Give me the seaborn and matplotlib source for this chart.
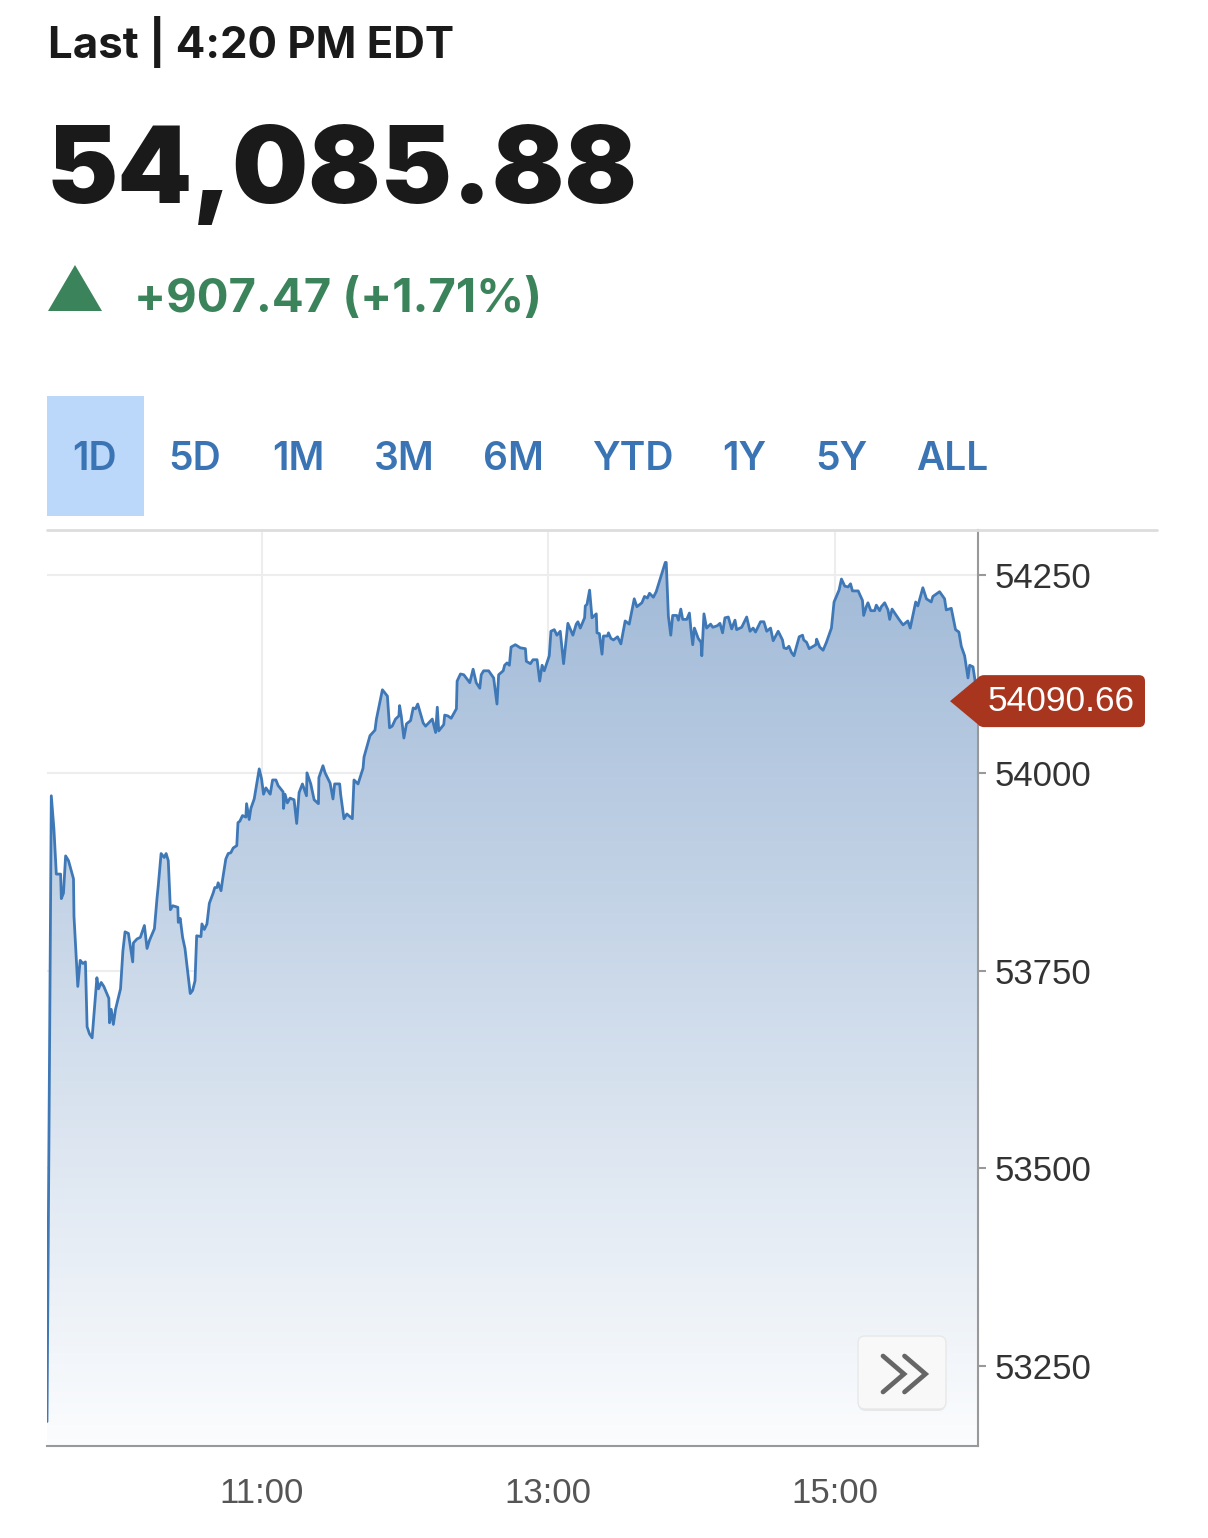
import numpy as np
import pandas as pd
import matplotlib
matplotlib.use("Agg")
import matplotlib.pyplot as plt
import seaborn as sns
from matplotlib.patches import FancyBboxPatch, Polygon, PathPatch
from matplotlib.lines import Line2D

# Intraday prices, minutes after the 9:30 open
times_am = [0, 1.8, 2.9, 3.9, 5.7, 6.0, 6.9, 7.8, 9.0, 11.1,
            11.3, 12.9, 13.9, 15.0, 16.1, 16.8, 17.8, 18.9, 20.9, 21.6,
            22.7, 23.8, 25.9, 26.2, 26.9, 27.8, 28.7, 30.8, 31.8, 32.7,
            34.1, 35.9, 36.2, 37.7, 39.1, 40.8, 41.9, 42.9, 45.0, 46.1,
            46.6, 47.8, 49.1, 49.9, 50.8, 51.7, 52.7, 54.8, 55.0, 55.8,
            56.8, 57.8, 60.0, 61.0, 62.0, 62.7, 64.5, 64.9, 65.9, 67.0,
            68.0, 69.6, 70.3, 71.2, 71.7, 72.9, 73.6, 74.9, 75.9, 77.0,
            78.0, 79.5, 80.0, 80.8, 81.9, 83.3, 83.6, 84.7, 85.4, 86.8,
            88.9, 89.9, 90.7, 91.7, 93.5, 94.5, 95.9, 96.8, 98.9, 99.1,
            99.7, 100.7, 101.8, 103.5, 104.6, 105.6, 107.0, 108.7, 108.9, 110.5,
            111.9, 113.7, 113.9, 115.6, 116.5, 118.6, 119.8, 120.5, 122.6, 123.0]
prices_am = [53180, 53971, 53929, 53872, 53872, 53841, 53848, 53895, 53889, 53866,
             53819, 53730, 53763, 53759, 53761, 53679, 53670, 53665, 53741, 53727,
             53735, 53730, 53715, 53684, 53701, 53682, 53701, 53727, 53775, 53799,
             53797, 53761, 53785, 53790, 53792, 53807, 53778, 53788, 53803, 53842,
             53857, 53898, 53893, 53898, 53889, 53827, 53832, 53830, 53811, 53816,
             53792, 53778, 53721, 53725, 53737, 53794, 53793, 53809, 53802, 53809,
             53835, 53848, 53855, 53855, 53861, 53851, 53866, 53891, 53898, 53899,
             53905, 53908, 53937, 53939, 53946, 53944, 53961, 53941, 53955, 53967,
             54005, 53992, 53973, 53981, 53973, 53991, 53991, 53984, 53976, 53955,
             53973, 53962, 53968, 53966, 53936, 53975, 53986, 53971, 54000, 53986,
             53966, 53961, 53994, 54009, 54000, 53987, 53967, 53986, 53986, 53973]

times_mid = [124.4, 125.6, 127.9, 128.6, 130.3, 132.4, 132.8, 135.3, 137.4, 138.0,
             140.5, 142.6, 143.5, 144.6, 146.0, 147.4, 147.7, 148.4, 149.5, 150.6,
             152.3, 153.4, 154.4, 155.3, 157.6, 158.6, 161.4, 162.8, 163.5, 164.1,
             166.2, 166.6, 167.9, 169.3, 171.5, 171.8, 173.2, 174.6, 177.1, 178.5,
             179.8, 181.3, 181.9, 182.9, 185.0, 187.1, 188.5, 189.2, 191.1, 191.7,
             192.7, 193.7, 194.4, 196.2, 198.3, 200.4, 200.8, 202.5, 203.6, 205.3,
             206.4, 207.4, 208.3, 210.4, 211.1, 212.5, 213.6, 215.0, 216.4, 218.2,
             220.3, 221.7, 222.4, 223.4, 225.2, 225.5, 226.2, 227.3, 228.3, 230.1,
             230.4, 231.4, 232.5, 233.1, 234.8, 235.2, 236.2, 237.3, 239.0, 240.4,
             242.2, 243.9, 246.0, 247.1, 249.2, 250.3, 251.5, 252.4, 254.0, 255.2]
prices_mid = [53942, 53948, 53942, 53991, 53986, 54006, 54020, 54047, 54054, 54068,
              54105, 54097, 54057, 54059, 54068, 54072, 54085, 54072, 54044, 54062,
              54066, 54082, 54081, 54087, 54063, 54059, 54068, 54051, 54083, 54053,
              54061, 54073, 54072, 54069, 54081, 54116, 54125, 54124, 54114, 54131,
              54114, 54107, 54124, 54129, 54129, 54120, 54087, 54124, 54129, 54136,
              54139, 54136, 54159, 54162, 54158, 54157, 54141, 54138, 54143, 54143,
              54116, 54136, 54129, 54148, 54179, 54181, 54174, 54179, 54138, 54189,
              54174, 54188, 54191, 54183, 54196, 54211, 54213, 54231, 54196, 54201,
              54177, 54176, 54150, 54173, 54173, 54177, 54170, 54168, 54172, 54163,
              54192, 54188, 54220, 54210, 54215, 54223, 54221, 54227, 54222, 54229]

times_pm = [259.0, 259.4, 260.3, 261.3, 262.1, 263.8, 264.5, 265.5, 266.3, 268.0,
            269.1, 269.7, 270.5, 271.2, 272.8, 274.0, 274.3, 275.2, 276.3, 278.0,
            278.9, 280.8, 281.9, 283.0, 284.0, 285.4, 286.8, 288.2, 288.9, 291.0,
            293.1, 294.5, 295.8, 296.8, 298.9, 300.3, 301.5, 303.1, 304.2, 306.3,
            308.1, 308.7, 309.8, 310.8, 311.9, 312.9, 315.1, 316.5, 317.0, 318.2,
            319.3, 322.1, 322.4, 323.7, 325.1, 326.5, 328.6, 329.7, 331.8, 332.8,
            334.2, 335.6, 336.6, 337.4, 339.8, 341.6, 342.1, 343.2, 343.9, 345.1,
            346.7, 347.4, 348.8, 349.5, 350.9, 352.3, 353.0, 354.0, 356.0, 356.9,
            358.6, 360.6, 361.6, 363.9, 364.8, 366.9, 368.4, 370.4, 371.1, 372.5,
            373.9, 376.0, 376.7, 378.8, 380.6, 382.0, 383.0, 384.4, 385.8, 386.5,
            387.9, 388.6, 390.0]
prices_pm = [54266, 54266, 54198, 54174, 54199, 54199, 54193, 54207, 54194, 54194,
             54202, 54183, 54162, 54183, 54170, 54165, 54148, 54201, 54183, 54188,
             54184, 54186, 54189, 54177, 54196, 54197, 54182, 54193, 54181, 54184,
             54197, 54179, 54183, 54178, 54191, 54191, 54179, 54183, 54167, 54179,
             54168, 54158, 54157, 54160, 54152, 54148, 54172, 54174, 54168, 54165,
             54157, 54162, 54169, 54159, 54155, 54165, 54183, 54216, 54231, 54245,
             54236, 54235, 54239, 54230, 54230, 54218, 54199, 54210, 54215, 54205,
             54205, 54212, 54205, 54210, 54215, 54206, 54194, 54207, 54198, 54194,
             54187, 54192, 54183, 54216, 54211, 54234, 54220, 54216, 54223, 54226,
             54229, 54220, 54206, 54208, 54181, 54178, 54160, 54148, 54120, 54136,
             54134, 54120, 54091]

y_ticks = [53250, 53500, 53750, 54000, 54250]
x_ticks = [90, 210, 330]
x_tick_labels = ["11:00", "13:00", "15:00"]
tabs = ["1D", "5D", "1M", "3M", "6M", "YTD", "1Y", "5Y", "ALL"]
last_label = "54090.66"

df = pd.DataFrame({
    "minute": times_am + times_mid + times_pm,
    "price": prices_am + prices_mid + prices_pm,
})

sns.set_style("white")
plt.rcParams["font.family"] = ["Liberation Sans", "DejaVu Sans"]

W, H = 1208, 1538
fig = plt.figure(figsize=(W / 100, H / 100), dpi=100)
ax = fig.add_axes([47 / W, (H - 1446) / H, (978 - 47) / W, (1446 - 530) / H])

ymin, ymax = 53149, 54307
ax.set_xlim(0, 390)
ax.set_ylim(ymin, ymax)

# gradient area under the line
grad = np.linspace(0, 1, 256)[:, None, None]
top = np.array([0.62, 0.72, 0.84])
bot = np.array([0.985, 0.99, 0.995])
img = bot + (top - bot) * grad
im = ax.imshow(img, extent=[0, 390, ymin, ymax], origin="lower", aspect="auto", zorder=1)
poly = ax.fill_between(df["minute"], df["price"], ymin, color="none", lw=0)
pp = PathPatch(poly.get_paths()[0], transform=ax.transData, fc="none", ec="none")
ax.add_patch(pp)
im.set_clip_path(pp)

sns.lineplot(data=df, x="minute", y="price", estimator=None, sort=False,
             color="#3f78b7", linewidth=2.0, ax=ax, zorder=3)

# grid and axes styling
for yv in y_ticks:
    ax.axhline(yv, color="#ededed", lw=1.5, zorder=0.5)
for xv in x_ticks:
    ax.axvline(xv, color="#ededed", lw=1.5, zorder=0.5)

ax.yaxis.tick_right()
ax.set_yticks(y_ticks)
ax.set_yticklabels([str(v) for v in y_ticks])
ax.set_xticks(x_ticks)
ax.set_xticklabels(x_tick_labels)
ax.tick_params(axis="y", length=6, width=1.5, color="#999999", labelsize=25,
               labelcolor="#333333", pad=6, right=True, left=False)
ax.tick_params(axis="x", length=11, width=1.5, color="#999999", labelsize=25,
               labelcolor="#555555", pad=11)
ax.set_xlabel("")
ax.set_ylabel("")
for side in ["left", "top"]:
    ax.spines[side].set_visible(False)
for side in ["right", "bottom"]:
    ax.spines[side].set_color("#999999")
    ax.spines[side].set_linewidth(1.5)

# top separator line
fig.add_artist(Line2D([47 / W, 1157 / W], [(H - 530) / H] * 2, color="#dddddd", lw=2))

# last-value callout
last_val = float(last_label)
disp = ax.transData.transform((390, last_val))
cy = disp[1] / 100
box = FancyBboxPatch((9.78, cy - 0.26), 1.67, 0.52, boxstyle="round,pad=0,rounding_size=0.06",
                     transform=fig.dpi_scale_trans, fc="#a8361f", ec="none", zorder=10)
fig.add_artist(box)
tri = Polygon([[9.50, cy], [9.80, cy + 0.25], [9.80, cy - 0.25]], closed=True,
              transform=fig.dpi_scale_trans, fc="#a8361f", ec="none", zorder=10)
fig.add_artist(tri)
fig.text(10.61 / (W / 100), cy / (H / 100), last_label, color="white", fontsize=25.5,
         ha="center", va="center", zorder=11)

# ">>" button
btn = FancyBboxPatch((8.58, 1.29), 0.88, 0.73, boxstyle="round,pad=0,rounding_size=0.07",
                     transform=fig.dpi_scale_trans, fc="#f8f8f8", ec="#e8e8e8", lw=1, zorder=8)
shadow = FancyBboxPatch((8.585, 1.27), 0.87, 0.73, boxstyle="round,pad=0,rounding_size=0.07",
                        transform=fig.dpi_scale_trans, fc="#dcdcdc", ec="none", zorder=7, alpha=0.6)
fig.add_artist(shadow)
fig.add_artist(btn)
for x0 in [8.83, 9.045]:
    fig.add_artist(Line2D([x0, x0 + 0.21, x0], [(H - 1356) / 100, (H - 1374) / 100, (H - 1392) / 100],
                          transform=fig.dpi_scale_trans, color="#666666", lw=3.4,
                          solid_joinstyle="miter", zorder=9))

# header
hfont = ["Inter", "Lato", "DejaVu Sans"]
fig.text(48 / W, (H - 58) / H, "Last | 4:20 PM EDT", fontsize=31.5, fontweight="bold",
         family=hfont, color="#1a1a1a", va="baseline")
fig.text(46 / W, (H - 203) / H, "54,085.88", fontsize=77, fontweight="black",
         family=hfont, color="#1a1a1a", va="baseline")
fig.add_artist(Polygon([[48 / W, (H - 311) / H], [102 / W, (H - 311) / H], [75 / W, (H - 265) / H]],
                       closed=True, transform=fig.transFigure, fc="#3b845b", ec="none"))
fig.text(134 / W, (H - 312) / H, "+907.47 (+1.71%)", fontsize=34, fontweight="bold",
         family=hfont, color="#3b845b", va="baseline")

# range tabs
fig.add_artist(FancyBboxPatch((47 / W, (H - 516) / H), 97 / W, 120 / H, boxstyle="square,pad=0",
                              transform=fig.transFigure, fc="#bbd7fa", ec="none"))
tab_x = [95, 195, 298, 404, 513, 633, 744, 841, 952]
for lbl, tx in zip(tabs, tab_x):
    fig.text(tx / W, (H - 470) / H, lbl, fontsize=28, fontweight="semibold", family=hfont,
             color="#3b74b4", ha="center", va="baseline")

fig.savefig("out.png", dpi=100)
